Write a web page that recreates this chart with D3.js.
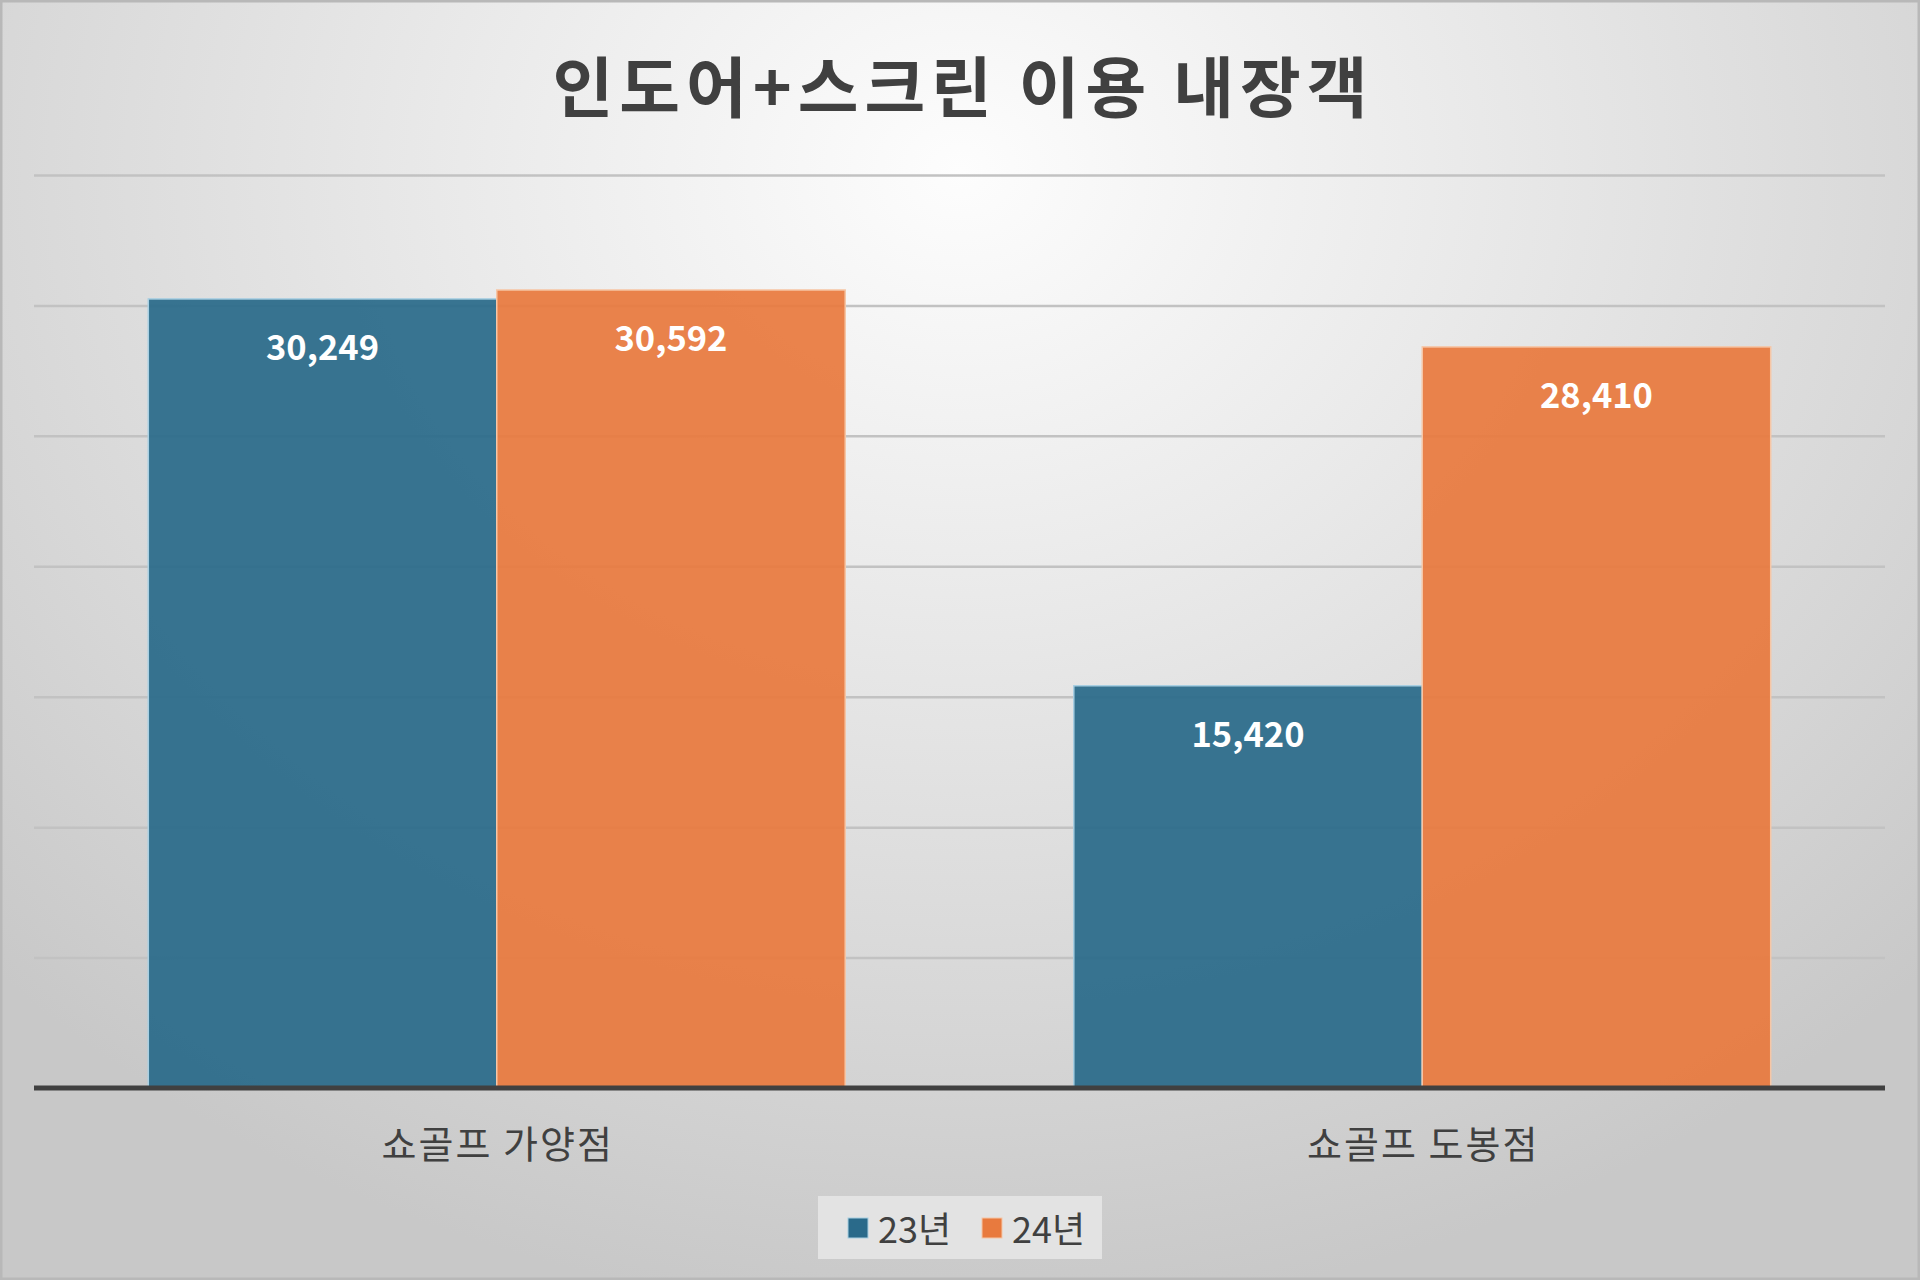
<!DOCTYPE html>
<html><head><meta charset="utf-8">
<script src="https://cdn.jsdelivr.net/npm/d3@7"></script>
<style>html,body{margin:0;padding:0;background:#fff}svg{display:block}</style>
</head><body>
<svg id="chart" width="1920" height="1280"></svg>
<script>
const title = "인도어+스크린 이용 내장객";
const categories = ["쇼골프 가양점", "쇼골프 도봉점"];
const seriesNames = ["23년", "24년"];
const values23 = [30249, 15420];
const values24 = [30592, 28410];
const yTicks = [0, 5000, 10000, 15000, 20000, 25000, 30000, 35000];
const colors = ["#2a6a8a", "#e87a3e"];
const strokes = ["#a8cfe2", "#f6c6a6"];

const W = 1920, H = 1280;
const plot = {left: 34, right: 1885, top: 175, bottom: 1088};
const svg = d3.select("#chart");
const defs = svg.append("defs");
const rg = defs.append("radialGradient").attr("id","bg")
  .attr("gradientUnits","userSpaceOnUse").attr("cx",960).attr("cy",170).attr("r",1350)
  .attr("gradientTransform","translate(960,170) scale(1,0.85) translate(-960,-170)");
rg.append("stop").attr("offset","0").attr("stop-color","#fdfdfd");
rg.append("stop").attr("offset","0.35").attr("stop-color","#ebebeb");
rg.append("stop").attr("offset","0.75").attr("stop-color","#d6d6d6");
rg.append("stop").attr("offset","1").attr("stop-color","#c8c8c8");
svg.append("rect").attr("width",W).attr("height",H).attr("fill","url(#bg)");
svg.append("rect").attr("x",1).attr("y",1).attr("width",W-2).attr("height",H-2)
  .attr("fill","none").attr("stroke","#b8b8b8").attr("stroke-width",3);

const y = d3.scaleLinear().domain([0, 35000]).range([plot.bottom, plot.top]);
const x0 = d3.scaleBand().domain(categories).range([plot.left, plot.right]).padding(0);
const x1 = d3.scaleBand().domain(seriesNames).range([0, x0.bandwidth()]).paddingInner(0).paddingOuter(0.328);

// gridlines
const yAxis = d3.axisLeft(y).tickValues(yTicks.filter(d => d > 0)).tickSize(-(plot.right - plot.left)).tickFormat("");
const ga = svg.append("g").attr("transform", `translate(${plot.left},0)`).call(yAxis);
ga.select(".domain").remove();
ga.selectAll(".tick line").attr("stroke","#c2c2c2").attr("stroke-width",2.5);

// bars
const data = categories.map((c, i) => ({cat: c, vals: [values23[i], values24[i]]}));
const groups = svg.append("g").selectAll("g").data(data).join("g")
  .attr("transform", d => `translate(${x0(d.cat)},0)`);
groups.selectAll("rect").data(d => d.vals.map((v, j) => ({v, s: seriesNames[j], j})))
  .join("rect")
  .attr("x", d => x1(d.s)).attr("width", x1.bandwidth())
  .attr("y", d => y(d.v)).attr("height", d => y(0) - y(d.v))
  .attr("fill", d => colors[d.j]).attr("fill-opacity", 0.93)
  .attr("stroke", d => strokes[d.j]).attr("stroke-width", 1.5);
groups.selectAll("text").data(d => d.vals.map((v, j) => ({v, s: seriesNames[j], j})))
  .join("text")
  .attr("x", d => x1(d.s) + x1.bandwidth() / 2)
  .attr("y", d => y(d.v) + 46)
  .attr("text-anchor","middle").attr("dominant-baseline","central")
  .attr("font-family","'Noto Sans CJK KR','Noto Sans',sans-serif")
  .attr("font-weight","bold").attr("font-size",34.5).attr("fill","#ffffff")
  .text(d => d3.format(",")(d.v));

// baseline
svg.append("line").attr("x1",plot.left).attr("x2",plot.right)
  .attr("y1",y(0)).attr("y2",y(0)).attr("stroke","#404040").attr("stroke-width",5);

// category axis
const xAxis = d3.axisBottom(x0).tickSize(0).tickPadding(0);
const gx = svg.append("g").attr("transform",`translate(0,${plot.bottom})`).call(xAxis);
gx.select(".domain").remove();
gx.selectAll("text").attr("y", 57).attr("dy","0.35em").attr("dx", 1)
  .attr("font-family","'Noto Sans CJK KR',sans-serif").attr("font-size",38)
  .attr("letter-spacing", 2)
  .attr("fill","#404040");

// title
svg.append("text").attr("x", 963).attr("y", 83).attr("text-anchor","middle")
  .attr("dominant-baseline","central")
  .attr("font-family","'Noto Sans CJK KR',sans-serif").attr("font-weight","bold")
  .attr("font-size",66).attr("letter-spacing",6).attr("fill","#404040").text(title);

// legend
const lg = svg.append("g");
lg.append("rect").attr("x",818).attr("y",1196).attr("width",284).attr("height",63).attr("fill","#e3e3e3");
const legendItems = [{x: 848, tx: 878}, {x: 982, tx: 1012}];
seriesNames.forEach((s, j) => {
  lg.append("rect").attr("x", legendItems[j].x).attr("y", 1218).attr("width", 20).attr("height", 20)
    .attr("fill", colors[j]).attr("stroke", strokes[j]).attr("stroke-width", 1);
  lg.append("text").attr("x", legendItems[j].tx).attr("y", 1227).attr("dominant-baseline","central")
    .attr("font-family","'Noto Sans CJK KR',sans-serif").attr("font-size",36).attr("fill","#404040").text(s);
});
</script>
</body></html>
